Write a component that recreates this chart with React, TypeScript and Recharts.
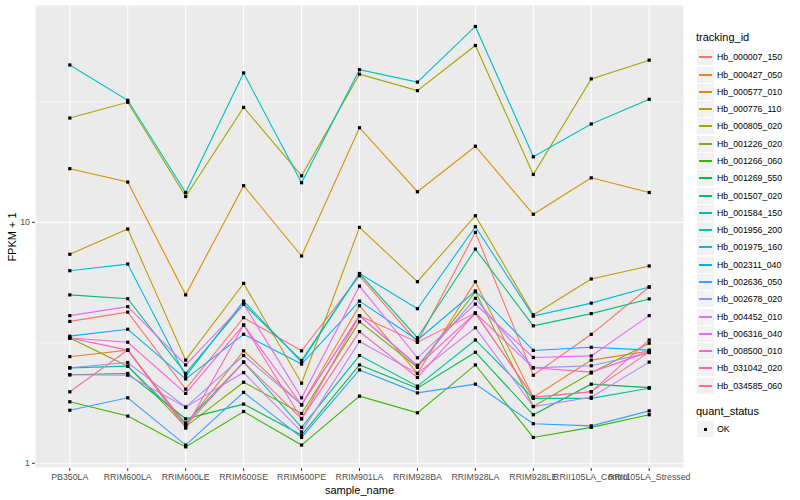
import { LineChart, Line, XAxis, YAxis, CartesianGrid, ReferenceLine } from "recharts";

const samples = [
  "PB350LA",
  "RRIM600LA",
  "RRIM600LE",
  "RRIM600SE",
  "RRIM600PE",
  "RRIM901LA",
  "RRIM928BA",
  "RRIM928LA",
  "RRIM928LE",
  "RRII105LA_Control",
  "RRII105LA_Stressed",
];

const trackingIds = [
  "Hb_000007_150",
  "Hb_000427_050",
  "Hb_000577_010",
  "Hb_000776_110",
  "Hb_000805_020",
  "Hb_001226_020",
  "Hb_001266_060",
  "Hb_001269_550",
  "Hb_001507_020",
  "Hb_001584_150",
  "Hb_001956_200",
  "Hb_001975_160",
  "Hb_002311_040",
  "Hb_002636_050",
  "Hb_002678_020",
  "Hb_004452_010",
  "Hb_006316_040",
  "Hb_008500_010",
  "Hb_031042_020",
  "Hb_034585_060",
];

// ggplot default hue palette for 20 groups
const colors = [
  "#F8766D", "#EA8331", "#D89000", "#C09B00", "#A3A500",
  "#7CAE00", "#39B600", "#00BB4E", "#00BF7D", "#00C1A3",
  "#00BFC4", "#00BAE0", "#00B0F6", "#35A2FF", "#9590FF",
  "#C77CFF", "#E76BF3", "#FA62DB", "#FF62BC", "#FF6C91",
];

// FPKM + 1, one value per sample
const hb000007_150 = [3.88, 4.24, 2.03, 4.02, 2.93, 6.0, 3.18, 9.09, 2.32, 3.43, 5.39];
const hb000427_050 = [2.77, 2.95, 1.45, 2.93, 1.75, 4.51, 2.36, 5.67, 1.88, 2.68, 2.92];
const hb000577_010 = [16.7, 14.7, 5.0, 14.2, 7.25, 24.7, 13.4, 20.7, 10.8, 15.3, 13.3];
const hb000776_110 = [7.37, 9.38, 2.68, 5.58, 2.15, 9.53, 5.67, 10.65, 4.13, 5.82, 6.59];
const hb000805_020 = [27.1, 31.5, 12.8, 30.0, 15.6, 41.2, 35.2, 54.2, 15.8, 39.4, 47.1];
const hb001226_020 = [3.31, 2.53, 1.42, 2.17, 1.61, 3.87, 2.5, 5.15, 1.72, 2.37, 3.15];
const hb001266_060 = [1.8, 1.57, 1.17, 1.64, 1.19, 1.9, 1.62, 2.56, 1.28, 1.41, 1.59];
const hb001269_550 = [2.33, 2.36, 1.53, 1.76, 1.31, 2.56, 2.05, 2.89, 1.59, 2.13, 2.06];
const hb001507_020 = [5.0, 4.82, 2.36, 4.58, 2.67, 6.13, 3.32, 7.74, 3.72, 4.18, 4.81];
const hb001584_150 = [2.49, 2.53, 1.47, 2.63, 1.41, 2.8, 2.09, 3.25, 1.86, 1.86, 2.05];
const hb001956_200 = [45, 32.1, 13.3, 41.7, 14.6, 43, 38.2, 65, 18.7, 25.6, 32.4];
const hb001975_160 = [6.3, 6.71, 2.3, 4.71, 2.63, 6.13, 4.38, 9.59, 4.08, 4.62, 5.39];
const hb002311_040 = [3.37, 3.6, 2.24, 3.43, 2.58, 4.71, 3.25, 5.19, 2.94, 3.03, 2.95];
const hb002636_050 = [1.66, 1.87, 1.19, 1.97, 1.28, 2.44, 1.96, 2.13, 1.46, 1.43, 1.65];
const hb002678_020 = [2.49, 2.62, 1.71, 2.8, 1.75, 4.1, 2.55, 4.84, 2.49, 2.54, 2.88];
const hb004452_010 = [2.33, 2.32, 1.71, 2.38, 1.35, 3.2, 2.36, 3.65, 1.72, 1.88, 2.63];
const hb006316_040 = [4.1, 4.47, 2.56, 4.58, 1.87, 5.44, 2.74, 4.58, 2.75, 2.79, 4.1];
const hb008500_010 = [3.31, 3.18, 1.95, 3.75, 1.75, 4.1, 2.53, 4.2, 2.49, 2.39, 2.9];
const hb031042_020 = [3.31, 2.95, 1.4, 3.75, 1.53, 3.52, 2.27, 4.2, 1.88, 1.98, 3.25];
const hb034585_060 = [1.98, 2.95, 1.43, 2.63, 1.53, 4.1, 3.18, 4.2, 1.88, 1.98, 2.9];

const seriesValues = [
  hb000007_150, hb000427_050, hb000577_010, hb000776_110, hb000805_020,
  hb001226_020, hb001266_060, hb001269_550, hb001507_020, hb001584_150,
  hb001956_200, hb001975_160, hb002311_040, hb002636_050, hb002678_020,
  hb004452_010, hb006316_040, hb008500_010, hb031042_020, hb034585_060,
];

const yTicks = [1, 10];
const yMinor = [3.162, 31.62];

const data = samples.map((s, i) => {
  const row: Record<string, string | number> = { sample_name: s };
  trackingIds.forEach((id, k) => {
    row[id] = seriesValues[k][i];
  });
  return row;
});

const SquareDot = (props: any) => {
  const { cx, cy, key } = props;
  if (cx == null || cy == null) return <g key={key} />;
  return <rect key={key} x={cx - 1.6} y={cy - 1.6} width={3.2} height={3.2} fill="#000" />;
};

const tickStyle = { fontSize: 8.8, fill: "#4D4D4D" };

export default function App() {
  return (
    <div
      style={{
        position: "absolute",
        left: 0,
        top: 0,
        width: 800,
        height: 500,
        background: "#fff",
        fontFamily: '"Liberation Sans", Arial, sans-serif',
      }}
    >
      <LineChart width={800} height={500} data={data} margin={{ top: 5, right: 116, bottom: 0, left: 0 }}>
        <CartesianGrid fill="#EBEBEB" stroke="#FFFFFF" strokeWidth={1.1} />
        {yMinor.map((v) => (
          <ReferenceLine key={v} y={v} stroke="#FFFFFF" strokeWidth={0.55} />
        ))}
        <XAxis
          dataKey="sample_name"
          type="category"
          interval={0}
          padding={{ left: 34.8, right: 34.8 }}
          height={32}
          axisLine={false}
          tickSize={3}
          tickMargin={3}
          tickLine={{ stroke: "#333333" }}
          tick={tickStyle}
          label={{ value: "sample_name", position: "insideBottom", offset: 6, fontSize: 11, fill: "#000" }}
        />
        <YAxis
          type="number"
          scale="log"
          domain={[0.956, 79.8]}
          allowDataOverflow
          ticks={yTicks}
          width={35}
          axisLine={false}
          tickSize={3}
          tickMargin={2}
          tickLine={{ stroke: "#333333" }}
          tick={tickStyle}
        />
        {trackingIds.map((id, k) => (
          <Line
            key={id}
            dataKey={id}
            stroke={colors[k]}
            strokeWidth={1.1}
            dot={false}
            activeDot={false}
            isAnimationActive={false}
          />
        ))}
        {trackingIds.map((id) => (
          <Line
            key={"pt_" + id}
            dataKey={id}
            stroke="none"
            dot={SquareDot}
            activeDot={false}
            legendType="none"
            isAnimationActive={false}
          />
        ))}
      </LineChart>

      <div
        style={{
          position: "absolute",
          left: 12,
          top: 236.5,
          transform: "translate(-50%, -50%) rotate(-90deg)",
          fontSize: 11,
          whiteSpace: "nowrap",
        }}
      >
        FPKM + 1
      </div>

      <div style={{ position: "absolute", left: 696, top: 31, fontSize: 11, lineHeight: "13px" }}>tracking_id</div>
      {trackingIds.map((id, k) => {
        const cy = Math.round(57.3 + k * 17.28);
        return (
          <div key={id}>
            <div
              style={{
                position: "absolute",
                left: 697,
                top: cy - 8,
                width: 17,
                height: 16,
                background: "#F2F2F2",
              }}
            />
            <div
              style={{
                position: "absolute",
                left: 699,
                top: cy - 1,
                width: 13,
                height: 1.5,
                background: colors[k],
              }}
            />
            <div
              style={{
                position: "absolute",
                left: 717,
                top: cy - 6,
                fontSize: 8.8,
                lineHeight: "12px",
                whiteSpace: "nowrap",
              }}
            >
              {id}
            </div>
          </div>
        );
      })}

      <div style={{ position: "absolute", left: 696, top: 405, fontSize: 11, lineHeight: "13px" }}>quant_status</div>
      <div style={{ position: "absolute", left: 697, top: 421, width: 17, height: 16, background: "#F2F2F2" }} />
      <div style={{ position: "absolute", left: 704, top: 428, width: 3, height: 3, background: "#000" }} />
      <div style={{ position: "absolute", left: 717, top: 423, fontSize: 8.8, lineHeight: "12px" }}>OK</div>
    </div>
  );
}
